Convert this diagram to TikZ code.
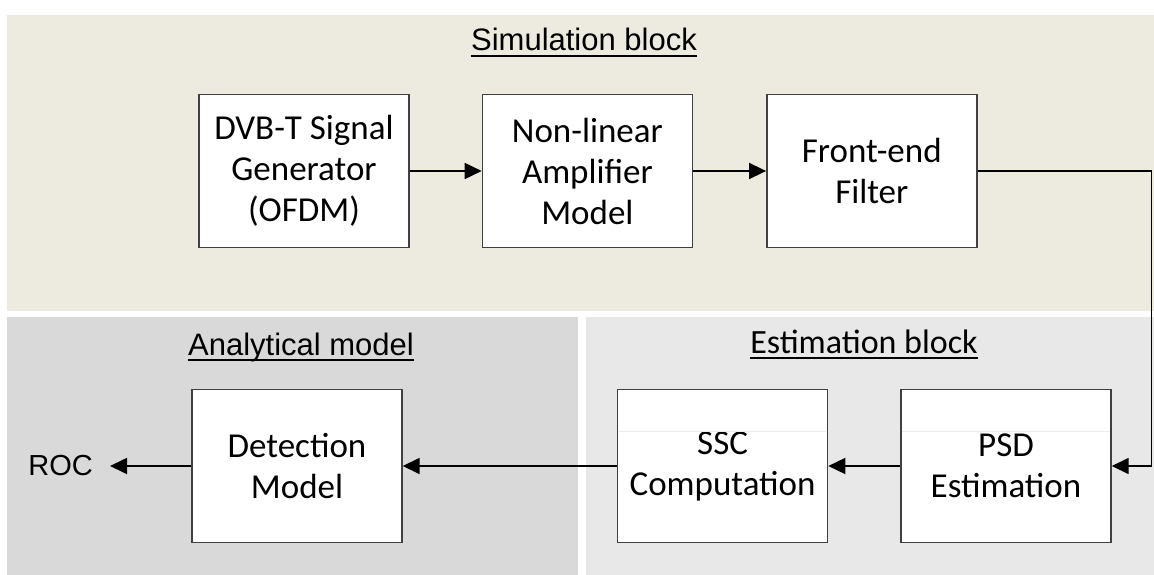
\documentclass[tikz,border=0pt]{standalone}
\usepackage{fontspec}
\setmainfont{Carlito}
\newfontfamily\arialfont{Liberation Sans}
\usetikzlibrary{arrows.meta}
\usetikzlibrary{positioning}

\definecolor{simbg}{HTML}{EDEBE0}
\definecolor{anabg}{HTML}{D9D9D9}
\definecolor{estbg}{HTML}{E8E8E8}

\tikzset{
    blockbox/.style={draw=black!75, line width=1.4pt, fill=white,
        minimum width=210pt, minimum height=153pt, inner sep=0pt,
        align=center, font=\fontsize{35}{41}\selectfont},
    flow/.style={line width=1.6pt, -{Triangle[length=17pt,width=16pt]}},
    blocktitle/.style={anchor=base, inner sep=0pt,
        font=\arialfont\fontsize{31}{36}\selectfont},
}

\begin{document}
\begin{tikzpicture}[x=1pt,y=-1pt]
    \useasboundingbox (0,0) rectangle (1154,575);

    % the three areas
    \fill[simbg] (7,15) rectangle (1154,311);
    \fill[anabg] (7,317) rectangle (578,575);
    \fill[estbg] (586,317) rectangle (1154,575);

    \node[blocktitle] (simtitle) at (584,51) {Simulation block};
    \node[blocktitle] (anatitle) at (301,355) {Analytical model};
    \node[blocktitle, font=\fontsize{34}{40}\selectfont] (esttitle) at (864,353) {Estimation block};
    \foreach \t in {simtitle,anatitle,esttitle}{%
        \draw[line width=2pt] ([yshift=-5pt]\t.base west) -- ([yshift=-5pt]\t.base east);
    }

    \node[blockbox] (gen) at (304,171) {DVB-T Signal\\Generator\\(OFDM)};
    \node[blockbox, right=72pt of gen] (amp) {Non-linear\\Amplifier\\Model};
    \node[blockbox, right=73pt of amp] (filt) {Front-end\\Filter};

    \node[blockbox] (psd) at (1006,466) {PSD\\Estimation};
    \node[blockbox, left=72pt of psd] (ssc) {SSC\\Computation};
    \node[blockbox] (det) at (297,466) {Detection\\Model};
    \node[anchor=east, inner ysep=0pt, inner xsep=17pt,
        font=\arialfont\fontsize{29}{34}\selectfont] (roc) at (110,466) {ROC};

    % faint rule inside the lower boxes
    \foreach \b in {ssc,psd}{%
        \draw[black!8, line width=0.8pt] ([xshift=2pt,yshift=-43pt]\b.north west) -- ([xshift=-2pt,yshift=-43pt]\b.north east);
    }

    \draw[flow] (gen) -- (amp);
    \draw[flow] (amp) -- (filt);
    \draw[flow] (filt.east) -- ++(174,0) |- (psd.east);
    \draw[flow] (psd) -- (ssc);
    \draw[flow] (ssc) -- (det);
    \draw[flow] (det) -- (roc);

\end{tikzpicture}
\end{document}
